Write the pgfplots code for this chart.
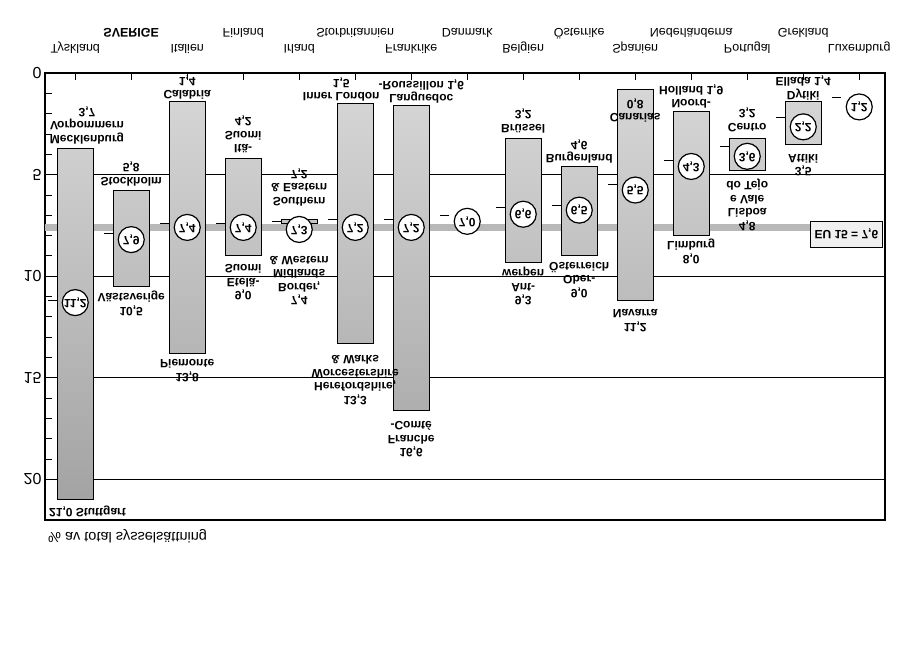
\documentclass[border=0pt]{standalone}
\usepackage{pgfplots}
\pgfplotsset{compat=1.18}
\usepackage{pgfplotstable}
\usepackage{fontspec}
\setmainfont{Liberation Sans}

% regional min / max (per country)
\pgfplotstableread{
x lo hi
1 3.7 21.0
2 5.8 10.5
3 1.4 13.8
4 4.2 9.0
5 7.2 7.4
6 1.5 13.3
7 1.6 16.6
9 3.2 9.3
10 4.6 9.0
11 0.8 11.2
12 1.9 8.0
13 3.2 4.8
14 1.4 3.5
}\bars

% national value v, circle placement cy
\pgfplotstableread{
x v cy
1 11.2 11.3
2 7.9 8.2
3 7.4 7.6
4 7.4 7.6
5 7.3 7.7
6 7.2 7.6
7 7.2 7.6
8 7.0 7.3
9 6.6 6.95
10 6.5 6.75
11 5.5 5.76
12 4.3 4.6
13 3.6 4.1
14 2.2 2.65
15 1.2 1.67
}\nat

\pgfplotsset{
  base/.style={
    scale only axis, width=840pt, height=447pt,
    at={(465pt,-296.5pt)}, anchor=center,
    xmin=0.46, xmax=15.46, ymin=0, ymax=22, y dir=reverse,
    clip=false,
    /pgf/number format/assume math mode=true,
  },
}
\tikzset{lab/.style={font=\bfseries\fontsize{12}{13.5}\selectfont, align=center, yscale=-1, inner sep=1pt}}

\begin{document}
\begin{tikzpicture}
\useasboundingbox (0,0) rectangle (900pt,-666pt);
% ---- axis A: frame, ticks, grid, band
\begin{axis}[base,
  axis line style={line width=2.4pt},
  xtick={1,...,15},
  xticklabels={{\strut\\Tyskland}, {\strut\\\strut\\\textbf{SVERIGE}}, {\strut\\Italien}, {\strut\\\strut\\Finland}, {\strut\\Irland}, {\strut\\\strut\\Storbritannien}, {\strut\\Frankrike}, {\strut\\\strut\\Danmark}, {\strut\\Belgien}, {\strut\\\strut\\Österrike}, {\strut\\Spanien}, {\strut\\\strut\\Nederländerna}, {\strut\\Portugal}, {\strut\\\strut\\Grekland}, {\strut\\Luxemburg}},
  xtick pos=upper, ytick pos=left,
  tick align=inside,
  major tick length=7pt, minor tick length=7pt,
  every tick/.style={black, line width=0.8pt},
  ytick={0,5,10,15,20},
  minor y tick num=4,
  ymajorgrids, grid style={black, line width=0.8pt},
  xticklabel style={font=\fontsize{12.5}{16.5}\selectfont, align=center, yscale=-1, anchor=north, inner sep=0pt},
  yticklabel style={font=\fontsize{16}{16}\selectfont, yscale=-1},
]
\addplot[black!28, line width=7pt] coordinates {(0.46,7.6) (14.15,7.6)};
\node[anchor=south west, yscale=-1, font=\fontsize{14.5}{14.5}\selectfont, inner xsep=3pt, inner ysep=9pt] at (axis cs:0.46,22) {\% av total sysselsättning};
\end{axis}
% ---- axis B: floating bars
\begin{axis}[base, hide axis, ybar stacked, bar width=0.64]
\addplot[draw=none, fill=none] table[x=x, y=lo] {\bars};
\addplot[draw=black, line width=0.9pt, top color=black!16, bottom color=black!36] table[x=x, y expr=\thisrow{hi}-\thisrow{lo}] {\bars};
\end{axis}
% ---- axis C: dashes, circles, labels
\begin{axis}[base, hide axis]
\addplot[only marks, mark=-, mark size=4.5pt, mark options={line width=0.9pt}] table[x expr=\thisrow{x}-0.4, y=v] {\nat};
\addplot[draw=none, mark=none, point meta=explicit,
  nodes near coords={\pgfmathprintnumber[fixed,fixed zerofill,precision=1,use comma]{\pgfplotspointmeta}},
  every node near coord/.append style={circle, draw=black, line width=1.2pt, fill=white, inner sep=0pt, minimum size=26pt, anchor=center, yscale=-1, font=\bfseries\fontsize{12}{12}\selectfont}]
  table[x=x, y=cy, meta=v] {\nat};
\node[draw=black, line width=0.8pt, fill=black!6, yscale=-1, font=\bfseries\fontsize{12}{12}\selectfont, minimum width=72pt, minimum height=26pt, inner sep=0pt] at (axis cs:14.77,7.93) {EU 15 = 7,6};
% labels above bars (minimum)
\node[lab, anchor=north] at (axis cs:1.21,3.55) {Mecklenburg\\Vorpommern\\3,7};
\node[lab, anchor=north] at (axis cs:2,5.62) {Stockholm\\5,8};
\node[lab, anchor=north] at (axis cs:3,1.35) {Calabria\\1,4};
\node[lab, anchor=north] at (axis cs:4,4.0) {Itä-\\Suomi\\4,2};
\node[lab, anchor=north] at (axis cs:5,6.6) {Southern\\\& Eastern\\7,2};
\node[lab, anchor=north] at (axis cs:5.75,1.45) {Inner London\\1,5};
\node[lab, anchor=north] at (axis cs:7.18,1.55) {Languedoc\\-Roussillon 1,6};
\node[lab, anchor=north] at (axis cs:9,3.0) {Brüssel\\3,2};
\node[lab, anchor=north] at (axis cs:10,4.5) {Burgenland\\4,6};
\node[lab, anchor=north] at (axis cs:11,2.5) {Canarias\\0,8};
\node[lab, anchor=north] at (axis cs:12,1.8) {Noord-\\Holland 1,9};
\node[lab, anchor=north] at (axis cs:13,2.95) {Centro\\3,2};
\node[lab, anchor=north] at (axis cs:14,1.38) {Dytiki\\Ellada 1,4};
% labels below bars (maximum)
\node[lab, anchor=south] at (axis cs:1.22,21.23) {21,0 Stuttgart};
\node[lab, anchor=south] at (axis cs:2,10.69) {10,5\\Västsverige};
\node[lab, anchor=south] at (axis cs:3,14.04) {13,8\\Piemonte};
\node[lab, anchor=south] at (axis cs:4,9.36) {9,0\\Etelä-\\Suomi};
\node[lab, anchor=south] at (axis cs:5,8.96) {7,4\\Border,\\Midlands\\\& Western};
\node[lab, anchor=south] at (axis cs:6,13.84) {13,3\\Herefordshire,\\Worcestershire\\\& Warks};
\node[lab, anchor=south] at (axis cs:7,17.09) {16,6\\Franche\\-Comté};
\node[lab, anchor=south] at (axis cs:9,9.51) {9,3\\Ant-\\werpen};
\node[lab, anchor=south] at (axis cs:10,9.26) {9,0\\Ober-\\Österreich};
\node[lab, anchor=south] at (axis cs:11,11.58) {11,2\\Navarra};
\node[lab, anchor=south] at (axis cs:12,8.13) {8,0\\Limburg};
\node[lab, anchor=south] at (axis cs:13,5.17) {4,8\\Lisboa\\e Vale\\do Tejo};
\node[lab, anchor=south] at (axis cs:14,3.94) {3,5\\Attiki};
\end{axis}
\end{tikzpicture}
\end{document}
